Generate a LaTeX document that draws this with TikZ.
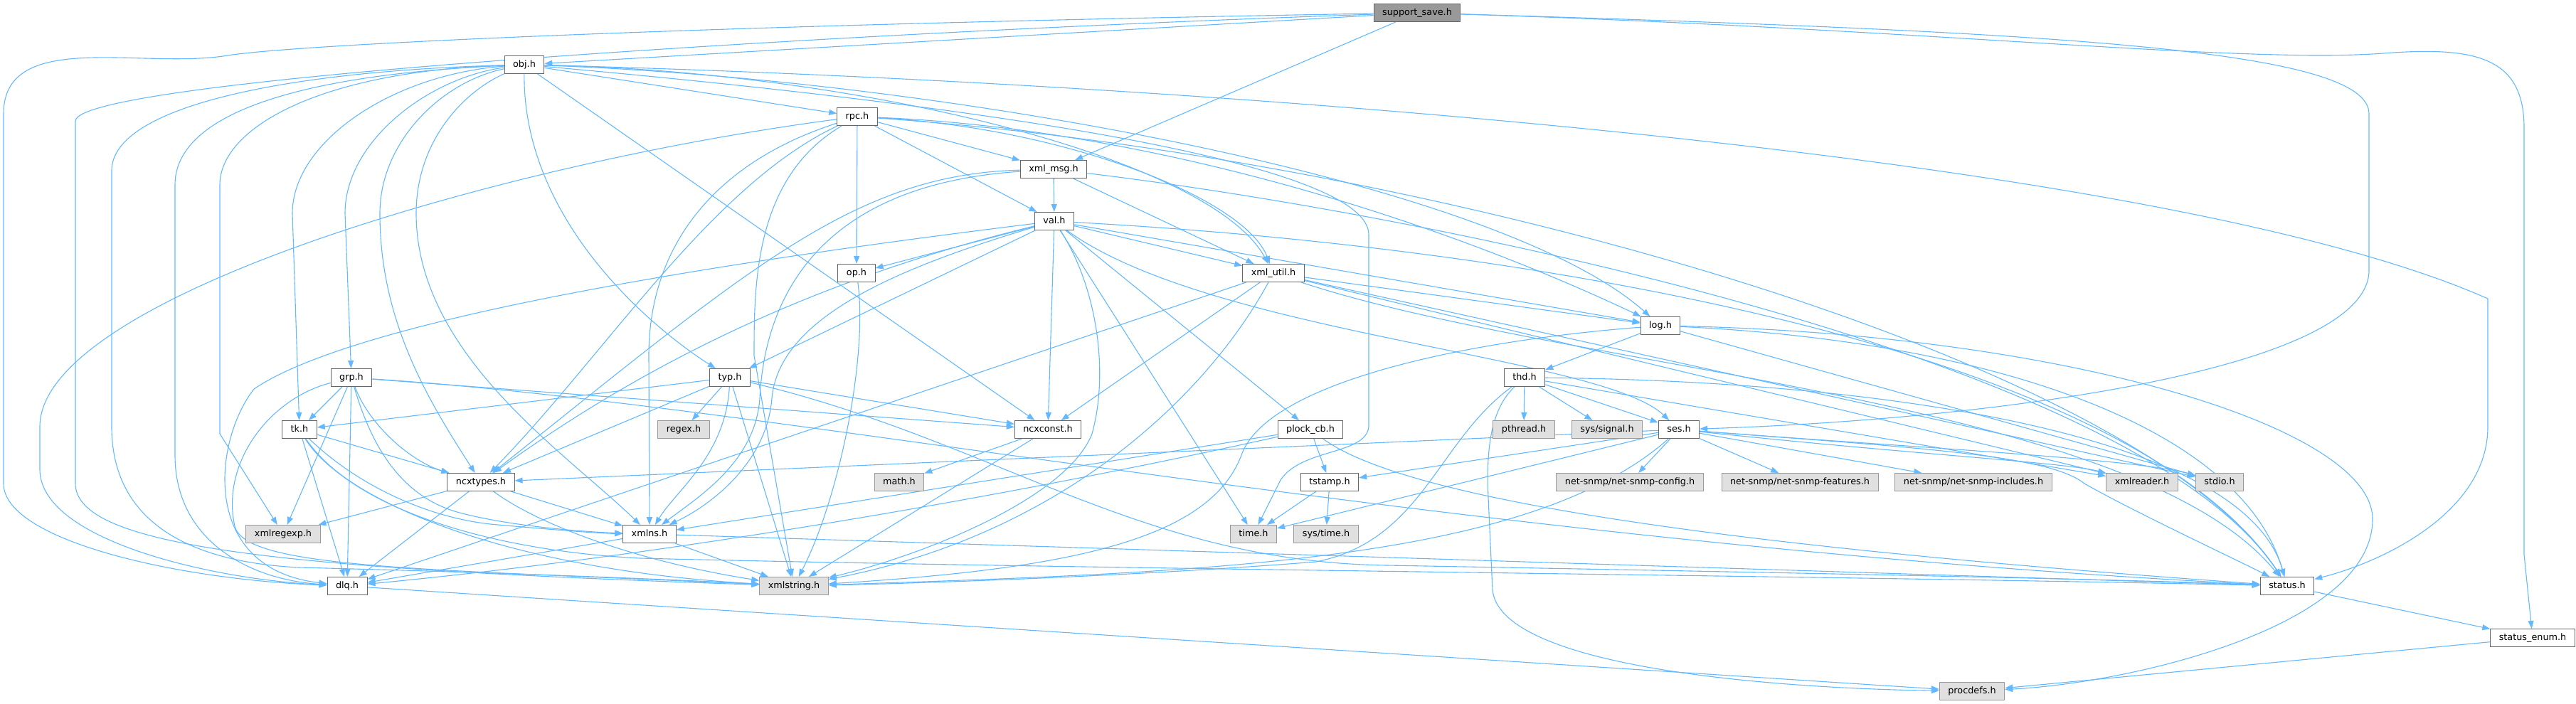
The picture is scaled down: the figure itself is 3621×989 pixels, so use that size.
\documentclass[tikz,border=0pt]{standalone}
\usepackage{fontspec}
\setmainfont{DejaVu Sans}
\usetikzlibrary{arrows.meta,backgrounds}
\definecolor{edgeblue}{HTML}{63B8FF}
\definecolor{extfill}{HTML}{E0E0E0}
\definecolor{extline}{HTML}{999999}
\definecolor{boxline}{HTML}{666666}
\definecolor{mainfill}{HTML}{999999}
\begin{document}
\begin{tikzpicture}[x=1pt,y=-1pt,
    hdr/.style={draw=boxline,fill=white,line width=1pt,minimum height=25pt,
      inner xsep=12pt,inner ysep=0pt,text height=9.5pt,text depth=2.5pt,
      font=\fontsize{12.8}{14}\selectfont},
    ext/.style={hdr,draw=extline,fill=extfill},
    mainhdr/.style={hdr,fill=mainfill},
    dep/.style={draw=edgeblue,line width=1.1pt,-{Triangle[length=11pt,width=8pt]}}]
    \useasboundingbox (0,0) rectangle (3621,989);

    \node[mainhdr] (ss) at (1992,18) {support\_save.h};
    \node[hdr] (obj) at (737,91) {obj.h};
    \node[hdr] (rpc) at (1205,164) {rpc.h};
    \node[hdr] (xmlmsg) at (1481,238) {xml\_msg.h};
    \node[hdr] (val) at (1482,311) {val.h};
    \node[hdr] (op) at (1204,384) {op.h};
    \node[hdr] (xmlutil) at (1790,384) {xml\_util.h};
    \node[hdr] (log) at (2334,458) {log.h};
    \node[hdr] (grp) at (494,531) {grp.h};
    \node[hdr] (typ) at (1026,531) {typ.h};
    \node[hdr] (thd) at (2143,531) {thd.h};
    \node[hdr] (tk) at (421,604) {tk.h};
    \node[ext] (regex) at (961,604) {regex.h};
    \node[hdr] (ncxconst) at (1473,604) {ncxconst.h};
    \node[hdr] (plock) at (1842,604) {plock\_cb.h};
    \node[ext] (pthread) at (2142,604) {pthread.h};
    \node[ext] (signal) at (2259,604) {sys/signal.h};
    \node[hdr] (ses) at (2360,604) {ses.h};
    \node[hdr] (ncxtypes) at (676,678) {ncxtypes.h};
    \node[ext] (math) at (1264,678) {math.h};
    \node[hdr] (tstamp) at (1869,678) {tstamp.h};
    \node[ext] (nsconfig) at (2291,678) {net-snmp/net-snmp-config.h};
    \node[ext] (nsfeat) at (2530,678) {net-snmp/net-snmp-features.h};
    \node[ext] (nsincl) at (2774,678) {net-snmp/net-snmp-includes.h};
    \node[ext] (xmlreader) at (3011,678) {xmlreader.h};
    \node[ext] (stdio) at (3120,678) {stdio.h};
    \node[ext] (xmlregexp) at (398,751) {xmlregexp.h};
    \node[hdr] (xmlns) at (913,751) {xmlns.h};
    \node[ext] (time) at (1762,751) {time.h};
    \node[ext] (systime) at (1864,751) {sys/time.h};
    \node[hdr] (dlq) at (488,824) {dlq.h};
    \node[ext] (xmlstr) at (1116,824) {xmlstring.h};
    \node[hdr] (status) at (3215,824) {status.h};
    \node[hdr] (senum) at (3560,897) {status\_enum.h};
    \node[ext] (procdefs) at (2772,972) {procdefs.h};

    \begin{pgfonlayer}{background}
    \draw[dep] (ss) -- (obj);
    \draw[dep] (ss) -- (xmlmsg);
    \draw[dep] (ss) .. controls (1000,35) and (420,62) .. (320,78) .. controls (200,98) and (5,40) .. (5,160) -- (5,680) .. controls (5,760) and (250,815) .. (dlq);
    \draw[dep] (ss) .. controls (1200,45) and (110,110) .. (106,170) -- (106,680) .. controls (106,770) and (400,800) .. (xmlstr);
    \draw[dep] (ss) .. controls (2900,45) and (3330,70) .. (3330,160) -- (3330,380) .. controls (3330,520) and (2800,590) .. (ses);
    \draw[dep] (ss) .. controls (2700,40) and (3150,90) .. (3350,75) .. controls (3480,65) and (3548,80) .. (3548,180) -- (3548,780) -- (senum);

    \draw[dep] (obj) -- (rpc);
    \draw[dep] (obj) .. controls (600,110) and (485,200) .. (485,300) -- (grp);
    \draw[dep] (obj) .. controls (550,105) and (411,200) .. (411,300) -- (tk);
    \draw[dep] (obj) .. controls (450,100) and (309,180) .. (309,260) -- (309,610) -- (xmlregexp);
    \draw[dep] (obj) .. controls (620,115) and (534,200) .. (534,300) .. controls (534,450) and (600,560) .. (ncxtypes);
    \draw[dep] (obj) .. controls (650,130) and (585,200) .. (585,300) .. controls (585,500) and (800,640) .. (xmlns);
    \draw[dep] (obj) .. controls (735,300) and (900,450) .. (typ);
    \draw[dep] (obj) -- (ncxconst);
    \draw[dep] (obj) .. controls (400,100) and (157,150) .. (157,240) -- (157,600) .. controls (157,730) and (260,790) .. (420,798) .. controls (700,805) and (950,815) .. (xmlstr);
    \draw[dep] (obj) .. controls (420,105) and (246,160) .. (246,260) -- (246,640) .. controls (246,760) and (350,815) .. (dlq);
    \draw[dep] (obj) .. controls (1200,100) and (1700,220) .. (xmlutil);
    \draw[dep] (obj) .. controls (1300,110) and (2100,250) .. (log);
    \draw[dep] (obj) .. controls (1500,110) and (3000,200) .. (3497,420) -- (3497,600) .. controls (3497,720) and (3350,790) .. (status);
    \draw[dep] (obj) .. controls (1400,150) and (1924,230) .. (1924,330) -- (1924,600) .. controls (1920,640) and (1830,630) .. (1800,675) -- (time);

    \draw[dep] (rpc) .. controls (700,230) and (56,420) .. (56,600) -- (56,660) .. controls (56,760) and (300,815) .. (dlq);
    \draw[dep] (rpc) .. controls (1000,260) and (850,500) .. (ncxtypes);
    \draw[dep] (rpc) .. controls (1000,230) and (912,350) .. (912,500) -- (xmlns);
    \draw[dep] (rpc) .. controls (1060,250) and (1060,400) .. (1060,500) -- (xmlstr);
    \draw[dep] (rpc) -- (op);
    \draw[dep] (rpc) -- (val);
    \draw[dep] (rpc) -- (xmlmsg);
    \draw[dep] (rpc) .. controls (1500,180) and (1750,280) .. (xmlutil);
    \draw[dep] (rpc) .. controls (1600,180) and (2000,300) .. (log);
    \draw[dep] (rpc) .. controls (2000,220) and (3000,500) .. (status);

    \draw[dep] (xmlmsg) -- (val);
    \draw[dep] (xmlmsg) -- (xmlutil);
    \draw[dep] (xmlmsg) .. controls (1200,245) and (1050,380) .. (ncxtypes);
    \draw[dep] (xmlmsg) .. controls (1150,260) and (1075,420) .. (1068,560) .. controls (1062,650) and (980,700) .. (xmlns);
    \draw[dep] (xmlmsg) .. controls (2000,300) and (3000,500) .. (status);

    \draw[dep] (val) -- (op);
    \draw[dep] (val) .. controls (1000,370) and (500,450) .. (357,547) .. controls (300,620) and (280,800) .. (dlq);
    \draw[dep] (val) .. controls (1250,380) and (1095,450) .. (1085,560) .. controls (1078,650) and (1000,710) .. (xmlns);
    \draw[dep] (val) .. controls (1200,380) and (950,480) .. (ncxtypes);
    \draw[dep] (val) -- (typ);
    \draw[dep] (val) -- (ncxconst);
    \draw[dep] (val) .. controls (1540,400) and (1560,520) .. (1535,610) .. controls (1500,700) and (1300,780) .. (xmlstr);
    \draw[dep] (val) -- (time);
    \draw[dep] (val) -- (plock);
    \draw[dep] (val) .. controls (1700,470) and (2250,500) .. (ses);
    \draw[dep] (val) -- (xmlutil);
    \draw[dep] (val) -- (log);
    \draw[dep] (val) .. controls (2200,350) and (3000,500) .. (status);

    \draw[dep] (op) .. controls (1220,500) and (1180,700) .. (xmlstr);

    \draw[dep] (xmlutil) -- (stdio);
    \draw[dep] (xmlutil) -- (xmlreader);
    \draw[dep] (xmlutil) .. controls (1700,550) and (1500,750) .. (xmlstr);
    \draw[dep] (xmlutil) -- (dlq);
    \draw[dep] (xmlutil) -- (ncxconst);
    \draw[dep] (xmlutil) -- (log);
    \draw[dep] (xmlutil) .. controls (2200,520) and (3000,560) .. (status);

    \draw[dep] (log) -- (thd);
    \draw[dep] (log) .. controls (2050,480) and (1780,540) .. (1745,640) .. controls (1700,760) and (1500,800) .. (xmlstr);
    \draw[dep] (log) -- (stdio);
    \draw[dep] (log) .. controls (2800,480) and (3150,600) .. (status);
    \draw[dep] (log) .. controls (2900,470) and (3335,600) .. (3335,730) .. controls (3335,880) and (3000,960) .. (procdefs);

    \draw[dep] (thd) -- (pthread);
    \draw[dep] (thd) -- (signal);
    \draw[dep] (thd) -- (ses);
    \draw[dep] (thd) .. controls (2600,535) and (3150,600) .. (status);
    \draw[dep] (thd) -- (xmlreader);
    \draw[dep] (thd) .. controls (2020,620) and (2000,760) .. (1850,790) .. controls (1600,810) and (1300,820) .. (xmlstr);
    \draw[dep] (thd) .. controls (2090,580) and (2090,650) .. (2092,700) -- (2098,830) .. controls (2110,940) and (2500,968) .. (procdefs);

    \draw[dep] (ses) -- (ncxtypes);
    \draw[dep] (ses) -- (tstamp);
    \draw[dep] (ses) -- (time);
    \draw[dep] (ses) .. controls (2150,790) and (1700,805) .. (xmlstr);
    \draw[dep] (ses) -- (nsconfig);
    \draw[dep] (ses) -- (nsfeat);
    \draw[dep] (ses) -- (nsincl);
    \draw[dep] (ses) .. controls (2700,640) and (2900,650) .. (xmlreader);
    \draw[dep] (ses) .. controls (2700,630) and (3000,645) .. (stdio);
    \draw[dep] (ses) .. controls (2700,630) and (2880,640) .. (2930,680) .. controls (3000,720) and (3150,790) .. (status);

    \draw[dep] (plock) -- (tstamp);
    \draw[dep] (plock) .. controls (2000,720) and (2600,780) .. (status);
    \draw[dep] (plock) .. controls (1500,680) and (1000,775) .. (dlq);
    \draw[dep] (plock) -- (xmlns);

    \draw[dep] (tstamp) -- (time);
    \draw[dep] (tstamp) -- (systime);

    \draw[dep] (typ) -- (tk);
    \draw[dep] (typ) -- (regex);
    \draw[dep] (typ) -- (ncxtypes);
    \draw[dep] (typ) .. controls (1020,640) and (950,690) .. (xmlns);
    \draw[dep] (typ) -- (xmlstr);
    \draw[dep] (typ) -- (ncxconst);
    \draw[dep] (typ) .. controls (1400,620) and (1600,790) .. (1950,795) .. controls (2500,805) and (3000,815) .. (status);

    \draw[dep] (grp) -- (tk);
    \draw[dep] (grp) -- (xmlregexp);
    \draw[dep] (grp) -- (dlq);
    \draw[dep] (grp) .. controls (520,600) and (580,650) .. (ncxtypes);
    \draw[dep] (grp) .. controls (520,620) and (560,700) .. (650,722) .. controls (720,740) and (820,748) .. (xmlns);
    \draw[dep] (grp) .. controls (380,560) and (310,650) .. (330,740) .. controls (345,800) and (600,800) .. (xmlstr);
    \draw[dep] (grp) -- (ncxconst);
    \draw[dep] (grp) .. controls (1100,570) and (2000,760) .. (status);

    \draw[dep] (tk) -- (ncxtypes);
    \draw[dep] (tk) .. controls (500,680) and (600,730) .. (700,738) .. controls (780,745) and (840,750) .. (xmlns);
    \draw[dep] (tk) -- (dlq);
    \draw[dep] (tk) .. controls (480,700) and (700,800) .. (xmlstr);
    \draw[dep] (tk) .. controls (500,720) and (700,775) .. (900,785) .. controls (1500,800) and (2600,810) .. (status);

    \draw[dep] (ncxtypes) -- (xmlregexp);
    \draw[dep] (ncxtypes) -- (dlq);
    \draw[dep] (ncxtypes) .. controls (760,740) and (900,790) .. (xmlstr);
    \draw[dep] (ncxtypes) -- (xmlns);

    \draw[dep] (xmlns) -- (dlq);
    \draw[dep] (xmlns) -- (xmlstr);
    \draw[dep] (xmlns) -- (status);

    \draw[dep] (ncxconst) -- (math);
    \draw[dep] (ncxconst) -- (xmlstr);

    \draw[dep] (dlq) -- (procdefs);
    \draw[dep] (status) -- (senum);
    \draw[dep] (senum) -- (procdefs);
    \end{pgfonlayer}
\end{tikzpicture}
\end{document}
